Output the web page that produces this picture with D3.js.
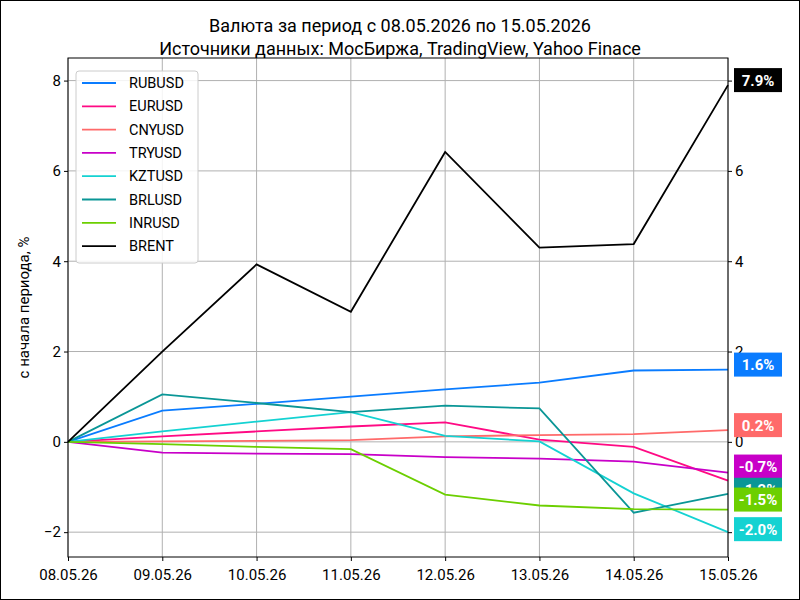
<!DOCTYPE html>
<html><head><meta charset="utf-8">
<script src="https://cdn.jsdelivr.net/npm/d3@7"></script>
<style>body{margin:0;background:#fff}text{font-family:Roboto,sans-serif}</style>
</head><body><svg id="c" width="800" height="600"></svg>
<script>
// data
const dates = ['08.05.26','09.05.26','10.05.26','11.05.26','12.05.26','13.05.26','14.05.26','15.05.26'];
const names = ['RUBUSD','EURUSD','CNYUSD','TRYUSD','KZTUSD','BRLUSD','INRUSD','BRENT'];
const colors = ['#0a7cff','#ff0a84','#ff6a6a','#c800c8','#14d2d2','#0a9696','#6ccf00','#000000'];
const RUBUSD = [0,0.69,0.84,1.0,1.16,1.31,1.58,1.6];
const EURUSD = [0,0.12,0.23,0.34,0.43,0.05,-0.11,-0.86];
const CNYUSD = [0,0.01,0.02,0.04,0.12,0.15,0.17,0.26];
const TRYUSD = [0,-0.24,-0.26,-0.27,-0.34,-0.37,-0.44,-0.68];
const KZTUSD = [0,0.23,0.45,0.66,0.13,0.01,-1.14,-2.0];
const BRLUSD = [0,1.05,0.86,0.66,0.8,0.74,-1.57,-1.15];
const INRUSD = [0,-0.05,-0.11,-0.16,-1.17,-1.41,-1.49,-1.5];
const BRENT = [0,2.0,3.93,2.88,6.42,4.3,4.38,7.9];
const series = [RUBUSD,EURUSD,CNYUSD,TRYUSD,KZTUSD,BRLUSD,INRUSD,BRENT];
const labels = ['1.6%','-0.9%','0.2%','-0.7%','-2.0%','-1.2%','-1.5%','7.9%'];
const yTicks = [-2,0,2,4,6,8];

const svg = d3.select('#c');
svg.append('rect').attr('x',0.5).attr('y',0.5).attr('width',799).attr('height',599)
  .attr('fill','none').attr('stroke','#000');

const L = 68, R = 728, T = 58, B = 557;
const x = d3.scalePoint().domain(dates).range([L, R]);
const y = d3.scaleLinear().domain([-2.55, 8.5]).range([B, T]);

// grid
const g = svg.append('g');
g.selectAll('.gx').data(dates).join('line')
  .attr('x1',d=>x(d)).attr('x2',d=>x(d)).attr('y1',T).attr('y2',B).attr('stroke','#b0b0b0');
g.selectAll('.gy').data(yTicks).join('line')
  .attr('x1',L).attr('x2',R).attr('y1',d=>y(d)).attr('y2',d=>y(d)).attr('stroke','#b0b0b0');

const line = d3.line().x((d,i)=>x(dates[i])).y(d=>y(d));
series.forEach((s,k)=>{
  svg.append('path').datum(s).attr('d',line).attr('fill','none')
    .attr('stroke',colors[k]).attr('stroke-width',1.8);
});

const fmt = d => d < 0 ? '\u2212' + Math.abs(d) : d;
const ax = svg.append('g').attr('transform',`translate(0,${B})`)
  .call(d3.axisBottom(x).tickSizeOuter(0).tickSize(4));
const al = svg.append('g').attr('transform',`translate(${L},0)`)
  .call(d3.axisLeft(y).tickValues(yTicks).tickFormat(fmt).tickSizeOuter(0).tickSize(4));
const ar = svg.append('g').attr('transform',`translate(${R},0)`)
  .call(d3.axisRight(y).tickValues(yTicks).tickFormat(fmt).tickSizeOuter(0).tickSize(4));
[ax,al,ar].forEach(a=>{
  a.selectAll('text').attr('font-size',15).attr('fill','#000');
  a.select('.domain').remove();
});
ax.selectAll('text').attr('dy','1.05em');
svg.append('rect').attr('x',L).attr('y',T).attr('width',R-L).attr('height',B-T)
  .attr('fill','none').attr('stroke','#000');

// end labels (shifted up a little as in the reference)
const shift = [5,5,5,6,3,4,10,5];
series.forEach((s,k)=>{
  const v = s[s.length-1], cy = y(v) - shift[k];
  svg.append('rect').attr('x',734).attr('y',cy-12).attr('width',48).attr('height',24).attr('fill',colors[k]);
  svg.append('text').attr('x',758).attr('y',cy+5.5).attr('text-anchor','middle')
    .attr('fill','#fff').attr('font-size',15).attr('font-weight','bold').text(labels[k]);
});

// legend
const lg = svg.append('g').attr('transform','translate(76,71)');
lg.append('rect').attr('width',122).attr('height',192).attr('rx',3).attr('fill','#fff')
  .attr('fill-opacity',0.85).attr('stroke','#ccc');
names.forEach((n,k)=>{
  const yy = 12 + k*23.3;
  lg.append('line').attr('x1',6).attr('x2',40).attr('y1',yy).attr('y2',yy)
    .attr('stroke',colors[k]).attr('stroke-width',1.8);
  lg.append('text').attr('x',53).attr('y',yy+5).attr('font-size',14.5).text(n);
});

svg.append('text').attr('x',400).attr('y',32).attr('text-anchor','middle').attr('font-size',18)
  .text('Валюта за период с 08.05.2026 по 15.05.2026');
svg.append('text').attr('x',400).attr('y',55).attr('text-anchor','middle').attr('font-size',18)
  .text('Источники данных: МосБиржа, TradingView, Yahoo Finace');
svg.append('text').attr('transform',`translate(29,${(T+B)/2}) rotate(-90)`).attr('text-anchor','middle')
  .attr('font-size',15).text('с начала периода, %');
</script></body></html>
